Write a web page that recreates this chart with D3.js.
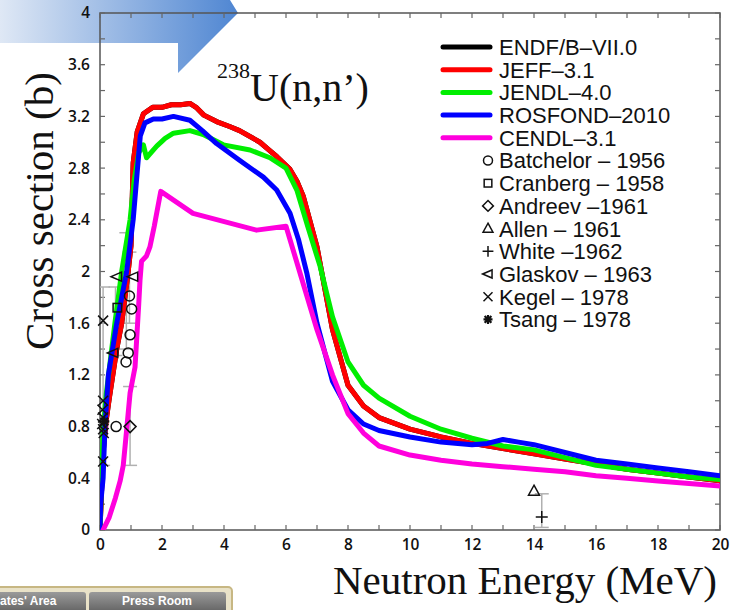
<!DOCTYPE html>
<html><head><meta charset="utf-8">
<script src="https://cdn.jsdelivr.net/npm/d3@7"></script>
<style>html,body{margin:0;padding:0;background:#fff;}svg{display:block;}</style>
</head><body>
<svg id="c" width="740" height="610"></svg>
<script>
// ---------- data ----------
const xTicks = [0,2,4,6,8,10,12,14,16,18,20];
const yTicks = [0,0.4,0.8,1.2,1.6,2,2.4,2.8,3.2,3.6,4];
const yTickLabels = ["0","0.4","0.8","1.2","1.6","2","2.4","2.8","3.2","3.6","4"];
const seriesNames = ["ENDF/B\u2013VII.0","JEFF\u20133.1","JENDL\u20134.0","ROSFOND\u20132010","CENDL\u20133.1"];
const seriesColors = ["#000000","#ff0000","#00ee00","#0000ff","#ff00dd"];
const jeff = [[0,0],[0.05,0.3],[0.1,0.6],[0.2,0.85],[0.3,1.02],[0.54,1.4],[0.7,1.6],[0.91,2.0],[1.0,2.2],[1.07,2.84],[1.2,3.08],[1.4,3.22],[1.7,3.27],[2.0,3.27],[2.3,3.29],[2.6,3.29],[2.9,3.30],[3.1,3.27],[3.35,3.21],[3.76,3.16],[4.2,3.12],[4.5,3.09],[5.16,3.0],[5.4,2.95],[5.7,2.89],[6.13,2.79],[6.35,2.7],[6.56,2.58],[7.0,2.19],[7.5,1.55],[8.0,1.12],[8.5,0.96],[9,0.87],[10,0.78],[11,0.72],[12,0.67],[13,0.63],[14,0.59],[15,0.55],[16,0.51],[17,0.47],[18,0.44],[19,0.41],[20,0.38]];
const endf = jeff.map(d => d.slice());
const jendl = [[0,0],[0.05,0.4],[0.1,0.75],[0.2,1.05],[0.48,1.6],[0.7,2.0],[0.97,2.4],[1.1,2.7],[1.25,2.92],[1.4,2.98],[1.5,2.88],[1.83,2.97],[2.1,3.03],[2.37,3.07],[2.9,3.09],[3.33,3.06],[3.98,2.98],[4.84,2.94],[5.48,2.88],[6.0,2.80],[6.35,2.63],[6.7,2.35],[7.1,2.04],[7.5,1.65],[8,1.3],[8.5,1.12],[9,1.02],[10,0.88],[11,0.78],[12,0.71],[13,0.65],[14,0.62],[15,0.56],[16,0.50],[17,0.47],[18,0.44],[19,0.41],[20,0.39]];
const rosfond = [[0,0],[0.02,0.2],[0.1,0.4],[0.16,0.8],[0.27,1.2],[0.54,1.6],[0.86,2.0],[1.07,2.4],[1.2,2.77],[1.3,3.05],[1.45,3.15],[1.72,3.18],[2.0,3.18],[2.37,3.20],[2.9,3.17],[3.3,3.09],[3.76,2.99],[4.5,2.86],[5.27,2.73],[5.7,2.63],[6.13,2.45],[6.4,2.25],[6.67,1.99],[7.0,1.6],[7.5,1.15],[8.0,0.93],[8.5,0.82],[9,0.77],[10,0.72],[11,0.68],[12,0.66],[12.5,0.67],[13,0.70],[13.5,0.68],[14,0.66],[15,0.60],[16,0.54],[17,0.51],[18,0.48],[19,0.45],[20,0.42]];
const cendl = [[0.1,0],[0.3,0.1],[0.5,0.25],[0.65,0.38],[0.75,0.5],[0.85,0.75],[0.97,1.06],[1.13,1.26],[1.25,1.75],[1.29,1.93],[1.34,2.08],[1.5,2.12],[1.61,2.19],[1.75,2.35],[1.96,2.62],[3.0,2.45],[5.05,2.32],[6.0,2.35],[6.5,1.95],[7.0,1.55],[7.5,1.2],[8.0,0.9],[8.5,0.75],[9,0.65],[10,0.58],[11,0.54],[12,0.51],[13,0.49],[14,0.47],[15,0.45],[16,0.42],[17,0.40],[18,0.38],[19,0.36],[20,0.34]];
const expNames = ["Batchelor \u2013 1956","Cranberg \u2013 1958","Andreev \u20131961","Allen \u2013 1961","White \u20131962","Glaskov \u2013 1963","Kegel \u2013 1978","Tsang \u2013 1978"];
const expSymbols = ["circle","square","diamond","triangle","plus","tleft","cross","star"];
const batchelor = [[0.52,0.80],[0.84,1.30],[0.91,1.37],[0.97,1.51],[1.02,1.71],[0.95,1.81]];
const cranberg = [[0.56,1.72]];
const andreev = [[0.97,0.80]];
const allen = [[14.0,0.30]];
const white = [[14.25,0.10]];
const glaskov = [[0.55,1.96],[1.07,1.96],[0.43,1.37]];
const kegel = [[0.1,1.62],[0.1,1.0],[0.08,0.93],[0.1,0.87],[0.07,0.82],[0.1,0.78],[0.12,0.75],[0.1,0.53]];
const tsang = [[0.14,0.84]];
const errBars = [[0.1,0.50,1.88],[0.5,1.35,1.88],[0.85,1.40,2.30],[0.95,1.60,2.15],[0.97,0.50,1.11],[14.25,0.02,0.28]];

// ---------- layout ----------
const svg = d3.select("#c");
const L = 100, R = 720, T = 13, B = 530;
const x = d3.scaleLinear().domain([0,20]).range([L,R]);
const y = d3.scaleLinear().domain([0,4]).range([B,T]);

// decoration: blue arrow banner (top-left)
const defs = svg.append("defs");
const grad = defs.append("linearGradient").attr("id","bg").attr("x1","0").attr("x2","1");
grad.append("stop").attr("offset","0").attr("stop-color","#dfe8f5");
grad.append("stop").attr("offset","1").attr("stop-color","#4f86d2");
svg.append("path").attr("d","M0,0 L230,0 L238,13 L178,73 L178,43 L0,43 Z").attr("fill","url(#bg)");

defs.append("clipPath").attr("id","clip").append("rect").attr("x",L).attr("y",T).attr("width",R-L).attr("height",B-T);

// frame
const frameColor = "#555";
svg.append("rect").attr("x",L).attr("y",T).attr("width",R-L).attr("height",B-T)
  .attr("fill","none").attr("stroke",frameColor).attr("stroke-width",1.5);

// ticks (inward) on all sides
const xMinor = d3.range(0,21,1), yMinor = d3.range(0,4.01,0.2);
const tk = svg.append("g").attr("stroke","#666").attr("stroke-width",1.2);
xMinor.forEach(v=>{
  tk.append("line").attr("x1",x(v)).attr("x2",x(v)).attr("y1",B).attr("y2",B-5);
  tk.append("line").attr("x1",x(v)).attr("x2",x(v)).attr("y1",T).attr("y2",T+5);
});
yMinor.forEach(v=>{
  tk.append("line").attr("x1",L).attr("x2",L+5).attr("y1",y(v)).attr("y2",y(v));
  tk.append("line").attr("x1",R).attr("x2",R-5).attr("y1",y(v)).attr("y2",y(v));
});

// tick labels via axes (domain/ticks hidden)
const xAxis = d3.axisBottom(x).tickValues(xTicks).tickFormat(d3.format("d")).tickSize(0).tickPadding(9);
const gx = svg.append("g").attr("transform",`translate(0,${B})`).call(xAxis);
const yAxis = d3.axisLeft(y).tickValues(yTicks).tickFormat((d,i)=>yTickLabels[i]).tickSize(0).tickPadding(10);
const gy = svg.append("g").attr("transform",`translate(${L},0)`).call(yAxis);
[gx,gy].forEach(g=>{
  g.select(".domain").remove();
  g.selectAll("text").attr("font-family","'Open Sans','Liberation Sans',Arial,sans-serif").attr("font-size",15.5).attr("fill","#111").attr("font-weight",600);
});

// error bars
const eb = svg.append("g").attr("stroke","#b0b0b0").attr("stroke-width",1.5).attr("clip-path","url(#clip)");
errBars.forEach(d=>{
  eb.append("line").attr("x1",x(d[0])).attr("x2",x(d[0])).attr("y1",y(d[1])).attr("y2",y(d[2]));
  [d[1],d[2]].forEach(v=>eb.append("line").attr("x1",x(d[0])-7).attr("x2",x(d[0])+7).attr("y1",y(v)).attr("y2",y(v)));
});

// curves
const line = d3.line().x(d=>x(d[0])).y(d=>y(d[1]));
const allSeries = [endf,jeff,jendl,rosfond,cendl];
const cg = svg.append("g").attr("clip-path","url(#clip)");
allSeries.forEach((s,i)=>{
  cg.append("path").attr("d",line(s)).attr("fill","none").attr("stroke",seriesColors[i])
    .attr("stroke-width",5).attr("stroke-linejoin","round").attr("stroke-linecap","round");
});

// symbols
function sym(g,type,cx,cy,s){
  const st = {fill:"none",stroke:"#111","stroke-width":1.5};
  let el;
  if(type==="circle") el = g.append("circle").attr("cx",cx).attr("cy",cy).attr("r",s);
  else if(type==="square") el = g.append("rect").attr("x",cx-s*0.85).attr("y",cy-s*0.85).attr("width",s*1.7).attr("height",s*1.7);
  else if(type==="diamond") el = g.append("path").attr("d",`M${cx},${cy-s*1.2}L${cx+s*1.2},${cy}L${cx},${cy+s*1.2}L${cx-s*1.2},${cy}Z`);
  else if(type==="triangle") el = g.append("path").attr("d",`M${cx},${cy-s*1.2}L${cx+s*1.1},${cy+s*0.8}L${cx-s*1.1},${cy+s*0.8}Z`);
  else if(type==="plus") el = g.append("path").attr("d",`M${cx-s*1.2},${cy}H${cx+s*1.2}M${cx},${cy-s*1.2}V${cy+s*1.2}`);
  else if(type==="tleft") el = g.append("path").attr("d",`M${cx-s*1.2},${cy}L${cx+s*0.9},${cy-s*0.9}L${cx+s*0.9},${cy+s*0.9}Z`);
  else if(type==="cross") el = g.append("path").attr("d",`M${cx-s},${cy-s}L${cx+s},${cy+s}M${cx-s},${cy+s}L${cx+s},${cy-s}`);
  else if(type==="star") el = g.append("path").attr("d",`M${cx-s},${cy}H${cx+s}M${cx},${cy-s}V${cy+s}M${cx-s*0.75},${cy-s*0.75}L${cx+s*0.75},${cy+s*0.75}M${cx-s*0.75},${cy+s*0.75}L${cx+s*0.75},${cy-s*0.75}`).attr("stroke-width",2.2);
  Object.entries(st).forEach(([k,v])=>{ if(!(k==="stroke-width"&&type==="star")) el.attr(k,v); });
  return el;
}
const expData = [batchelor,cranberg,andreev,allen,white,glaskov,kegel,tsang];
const mg = svg.append("g");
expData.forEach((arr,i)=>arr.forEach(d=>sym(mg,expSymbols[i],x(d[0]),y(d[1]),5)));

// legend
const lg = svg.append("g");
const legY0 = 47, legDy = 22.7;
seriesNames.forEach((n,i)=>{
  const yy = legY0 + i*legDy;
  lg.append("line").attr("x1",443).attr("x2",490).attr("y1",yy).attr("y2",yy)
    .attr("stroke",seriesColors[i]).attr("stroke-width",5).attr("stroke-linecap","round");
  lg.append("text").attr("x",499).attr("y",yy).attr("dy","0.36em").text(n);
});
expNames.forEach((n,i)=>{
  const yy = legY0 + (i+5)*legDy;
  sym(lg,expSymbols[i],488,yy,4.5);
  lg.append("text").attr("x",499).attr("y",yy).attr("dy","0.36em").text(n);
});
lg.selectAll("text").attr("font-family","'Liberation Sans',Arial,sans-serif").attr("font-size",22).attr("fill","#111");

// titles
const serif = "'Liberation Serif','Times New Roman',serif";
const tt = svg.append("text").attr("x",217).attr("y",101).attr("font-family",serif).attr("fill","#111");
tt.append("tspan").attr("font-size",22).attr("dy",-23).text("238");
tt.append("tspan").attr("font-size",40).attr("dy",23).text("U(n,n\u2019)");
svg.append("text").attr("x",525).attr("y",594).attr("text-anchor","middle").attr("font-family",serif)
  .attr("font-size",41).attr("fill","#111").text("Neutron Energy (MeV)");
svg.append("text").attr("transform","translate(53,211) rotate(-90)").attr("text-anchor","middle")
  .attr("font-family",serif).attr("font-size",41).attr("fill","#111").text("Cross section (b)");

// decoration: bottom-left button bar
const bb = svg.append("g");
const bgrad = defs.append("linearGradient").attr("id","btn").attr("x1","0").attr("x2","0").attr("y1","0").attr("y2","1");
bgrad.append("stop").attr("offset","0").attr("stop-color","#9a9a9a");
bgrad.append("stop").attr("offset","1").attr("stop-color","#5e5e5e");
bb.append("rect").attr("x",-6).attr("y",587).attr("width",238).attr("height",30).attr("rx",4)
  .attr("fill","#e9e2c8").attr("stroke","#c7b783").attr("stroke-width",2);
bb.append("rect").attr("x",-6).attr("y",592).attr("width",92).attr("height",22).attr("rx",3).attr("fill","url(#btn)");
bb.append("rect").attr("x",89).attr("y",592).attr("width",137).attr("height",22).attr("rx",3).attr("fill","url(#btn)");
bb.append("text").attr("x",0).attr("y",605).attr("font-family","'Liberation Sans',Arial,sans-serif").attr("font-size",12).attr("font-weight","bold").attr("fill","#fff").text("ates' Area");
bb.append("text").attr("x",157).attr("y",605).attr("text-anchor","middle").attr("font-family","'Liberation Sans',Arial,sans-serif").attr("font-size",12).attr("font-weight","bold").attr("fill","#fff").text("Press Room");
</script>
</body></html>
